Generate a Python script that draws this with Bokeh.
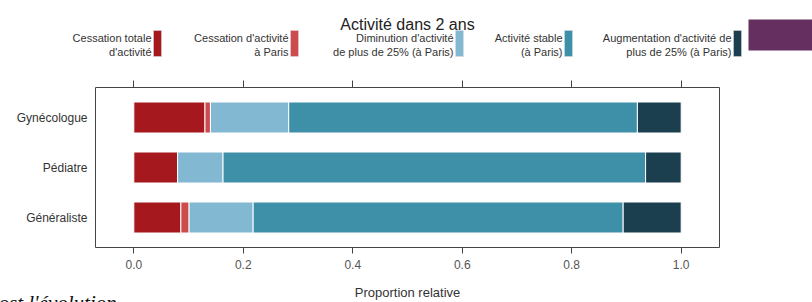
from bokeh.plotting import figure
from bokeh.layouts import column
from bokeh.models import (ColumnDataSource, Range1d, FixedTicker, LinearAxis,
                          PrintfTickFormatter)
from bokeh.embed import file_html
from bokeh.resources import INLINE
from bokeh.core.properties import value

# ---------------- data ----------------
categories = ["Généraliste", "Pédiatre", "Gynécologue"]
cessation_totale = [0.086, 0.080, 0.130]
cessation_paris = [0.015, 0.000, 0.010]
diminution = [0.117, 0.083, 0.143]
stable = [0.676, 0.772, 0.637]
augmentation = [0.106, 0.065, 0.080]

series_keys = ["cessation_totale", "cessation_paris", "diminution", "stable", "augmentation"]
series_labels = [
    ["Cessation totale", "d'activité"],
    ["Cessation d'activité", "à Paris"],
    ["Diminution d'activité", "de plus de 25% (à Paris)"],
    ["Activité stable", "(à Paris)"],
    ["Augmentation d'activité de", "plus de 25% (à Paris)"],
]
colors = ["#A5181D", "#CD4B4C", "#82B8D1", "#3E8FA8", "#1C3F4F"]
legend_title = "Activité dans 2 ans"
x_ticks = [0.0, 0.2, 0.4, 0.6, 0.8, 1.0]
x_label = "Proportion relative"
stray_text = "ost l'évolution"

W = 812
LEG_H = 74
MAIN_H = 206
FOOT_H = 22
FONT = "Liberation Sans"
FRAME_L, FRAME_R = 95, 93


def strip(h):
    f = figure(width=W, height=h, x_range=Range1d(0, W), y_range=Range1d(h, 0),
               x_axis_location=None, y_axis_location=None, toolbar_location=None,
               output_backend="svg", min_border=0, outline_line_color=None,
               frame_align=False)
    f.grid.visible = False
    return f


# ---------------- legend strip ----------------
leg = strip(LEG_H)
leg.text(x=[407], y=[24], text=[legend_title], text_font=value(FONT),
         text_font_size="16px", text_color="#222222", text_align="center",
         text_baseline="alphabetic")

box_left = [153, 290, 455, 564, 733]
box_w = 8
leg.quad(left=box_left, right=[b + box_w for b in box_left], top=[30] * 5,
         bottom=[56] * 5, fill_color=colors, line_color="#dddddd", line_width=0.5)
leg.text(x=[b - 2 for b in box_left], y=[37] * 5, text=[l[0] for l in series_labels],
         text_font=value(FONT), text_font_size="11px", text_color="#333333",
         text_align="right", text_baseline="middle")
leg.text(x=[b - 2 for b in box_left], y=[51] * 5, text=[l[1] for l in series_labels],
         text_font=value(FONT), text_font_size="11px", text_color="#333333",
         text_align="right", text_baseline="middle")
# slide decoration at the top right
leg.quad(left=[748], right=[812], top=[19], bottom=[50], fill_color="#65305F",
         line_color=None)

# ---------------- main chart ----------------
ypos = [1, 2, 3]
source = ColumnDataSource(dict(
    y=ypos,
    cessation_totale=cessation_totale,
    cessation_paris=cessation_paris,
    diminution=diminution,
    stable=stable,
    augmentation=augmentation,
))

p = figure(width=W, height=MAIN_H, x_range=Range1d(-0.07, 1.07),
           y_range=Range1d(0.4, 3.6), toolbar_location=None, output_backend="svg",
           min_border_left=FRAME_L, min_border_right=FRAME_R, min_border_top=13,
           min_border_bottom=33, outline_line_color="#444444", outline_line_width=1,
           background_fill_color="white", border_fill_color="white",
           frame_align=False)
p.grid.visible = False

p.hbar_stack(series_keys, y="y", height=0.62, color=colors, source=source,
             line_color="white", line_width=1)

# bottom axis
xa = p.xaxis[0]
xa.ticker = FixedTicker(ticks=x_ticks)
xa.formatter = PrintfTickFormatter(format="%.1f")
xa.axis_line_color = None
xa.major_tick_out = 6
xa.major_tick_in = 0
xa.minor_tick_line_color = None
xa.major_tick_line_color = "#444444"
xa.major_label_standoff = 6
xa.major_label_text_font = FONT
xa.major_label_text_font_size = "12px"
xa.major_label_text_color = "#555555"

# top axis: ticks only
top = LinearAxis(ticker=FixedTicker(ticks=x_ticks), axis_line_color=None,
                 major_tick_out=7, major_tick_in=0, minor_tick_line_color=None,
                 major_tick_line_color="#444444",
                 major_label_overrides={t: "" for t in x_ticks},
                 major_label_standoff=0)
p.add_layout(top, "above")

# left axis
ya = p.yaxis[0]
ya.ticker = FixedTicker(ticks=ypos)
ya.major_label_overrides = {y: c for y, c in zip(ypos, categories)}
ya.axis_line_color = None
ya.major_tick_line_color = None
ya.minor_tick_line_color = None
ya.major_tick_out = 0
ya.major_tick_in = 0
ya.major_label_standoff = 8
ya.major_label_text_font = FONT
ya.major_label_text_font_size = "12px"
ya.major_label_text_color = "#333333"

# ---------------- footer: axis title + slide text ----------------
foot = strip(FOOT_H)
foot.text(x=[(FRAME_L + W - FRAME_R) / 2], y=[12], text=[x_label], text_font=value(FONT),
          text_font_size="13px", text_color="#333333", text_align="center",
          text_baseline="middle")
foot.text(x=[-2], y=[22.5], text=[stray_text], text_font=value("Liberation Serif"),
          text_font_style="italic", text_font_size="21px", text_color="#111111",
          text_align="left", text_baseline="alphabetic")

layout = column(leg, p, foot, spacing=0)
open("out.html", "w").write(file_html(layout, INLINE))
